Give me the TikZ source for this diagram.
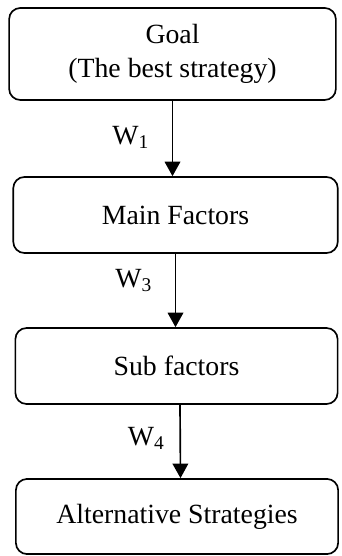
\documentclass[tikz,border=0pt]{standalone}
\usepackage{fontspec}
\setmainfont{Liberation Serif}
\usepackage{tikz}
\usetikzlibrary{arrows.meta}
\usetikzlibrary{positioning}
\tikzset{level/.style={draw, rounded corners=5pt, line width=0.75pt, align=center, font=\fontsize{12.5}{15}\selectfont, inner sep=0pt},
	weight/.style={font=\fontsize{12.5}{14}\selectfont, inner sep=0pt},
	link/.style={line width=0.75pt, -{Triangle[width=7pt,length=6.5pt]}}}
\newcommand{\wlab}[1]{W\textsubscript{#1}}

\begin{document}
\begin{tikzpicture}[x=0.45pt, y=-0.45pt]

					\useasboundingbox (0,0) rectangle (341,556);

					\node[level, minimum width=147pt, minimum height=41.4pt] (goal) at (172.5,54) {Goal\\(The best strategy)};
					\node[level, minimum width=146pt, minimum height=34.2pt] (main) at (175.5,215) {Main Factors};
					\node[level, minimum width=145pt, minimum height=34.2pt] (sub) at (176.5,366) {Sub factors};
					\node[level, minimum width=145pt, minimum height=33.8pt] (alt) at (177,516.5) {Alternative Strategies};

					\draw[link] (goal.south) -- (goal.south |- main.north) node[weight, pos=0.48, left=10pt] {\wlab{1}};

					\draw[link] (main.south) -- (main.south |- sub.north) node[weight, pos=0.36, left=10pt] {\wlab{3}};

					\draw[link] ([xshift=3.5*0.45pt]sub.south) -- ([xshift=3.5*0.45pt]alt.north) node[weight, pos=0.46, left=6.5pt] {\wlab{4}};

				\end{tikzpicture}
\end{document}
